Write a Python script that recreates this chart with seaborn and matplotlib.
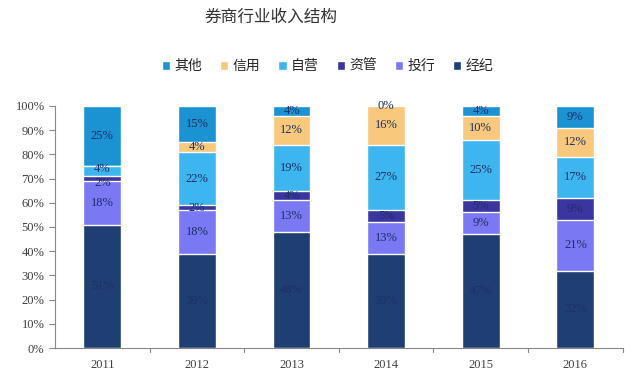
import numpy as np
import pandas as pd
import matplotlib
matplotlib.use("Agg")
import matplotlib.pyplot as plt
import seaborn as sns

years = ["2011", "2012", "2013", "2014", "2015", "2016"]
# stacked from bottom to top
segments = ["经纪", "投行", "资管", "自营", "信用", "其他"]
brokerage = [51, 39, 48, 39, 47, 32]
ib = [18, 18, 13, 13, 9, 21]
am = [2, 2, 4, 5, 5, 9]
prop = [4, 22, 19, 27, 25, 17]
credit = [0, 4, 12, 16, 10, 12]
other = [25, 15, 4, 0, 4, 9]
# 2011 has no credit label in the source
hide_label = [("2011", "信用")]
# small nudges for the cramped 2011 labels
label_shift = {("2011", "自营"): 0.8, ("2011", "资管"): -2.0}

colors = {
    "经纪": "#1f3f72",
    "投行": "#7b78f4",
    "资管": "#3b35a0",
    "自营": "#3db6ef",
    "信用": "#f8c97c",
    "其他": "#1b93d3",
}
legend_order = ["其他", "信用", "自营", "资管", "投行", "经纪"]

sns.set_style("white")
plt.rcParams["font.family"] = ["Noto Sans CJK SC", "DejaVu Sans"]

df = pd.DataFrame(dict(zip(segments, [brokerage, ib, am, prop, credit, other])), index=years)
cum = df.cumsum(axis=1)

fig = plt.figure(figsize=(6.4, 3.73), dpi=100)
ax = fig.add_axes([0.086, 0.067, 0.887, 0.649])

# draw cumulative bars from top layer down so each one covers the previous
for seg in segments[::-1]:
    sns.barplot(x=years, y=cum[seg].values, color=colors[seg], width=0.4,
                saturation=1, ax=ax, label=seg, order=years)

serif = ["Liberation Serif", "DejaVu Serif"]
for i, yr in enumerate(years):
    for seg in segments:
        if (yr, seg) in hide_label:
            continue
        v = df.loc[yr, seg]
        mid = cum.loc[yr, seg] - v / 2 + label_shift.get((yr, seg), 0)
        ax.text(i, mid, f"{v}%", ha="center", va="center", fontsize=9,
                color="#1d2f66", family=serif)

ax.set_ylim(0, 100)
ax.set_xlim(-0.5, len(years) - 0.5)
ax.set_yticks(np.arange(0, 101, 10))
ax.set_yticklabels([f"{t}%" for t in range(0, 101, 10)], family=serif, fontsize=9,
                   color="#404040")
ax.set_xticks(range(len(years)))
ax.set_xticklabels(years, family=serif, fontsize=9, color="#404040")
ax.tick_params(axis="x", length=0, pad=8)
ax.tick_params(axis="y", length=4, direction="out", color="#888888", left=True)
for b in np.arange(0.5, len(years), 1):
    ax.plot([b, b], [0, -1.5], color="#888888", lw=0.8, clip_on=False)
for s in ["top", "right"]:
    ax.spines[s].set_visible(False)
for s in ["left", "bottom"]:
    ax.spines[s].set_color("#888888")
    ax.spines[s].set_linewidth(0.8)
ax.set_xlabel("")
ax.set_ylabel("")

handles, labels = ax.get_legend_handles_labels()
hmap = dict(zip(labels, handles))
ax.legend([hmap[k] for k in legend_order], legend_order, loc="center",
          bbox_to_anchor=(0.48, 1.165), ncol=6, frameon=False, fontsize=10,
          handlelength=0.6, handleheight=0.6, handletextpad=0.3, columnspacing=1.3)

fig.text(0.32, 0.955, "券商行业收入结构", fontsize=12, ha="left", va="center", color="#333333")

fig.savefig("out.png", dpi=100)
